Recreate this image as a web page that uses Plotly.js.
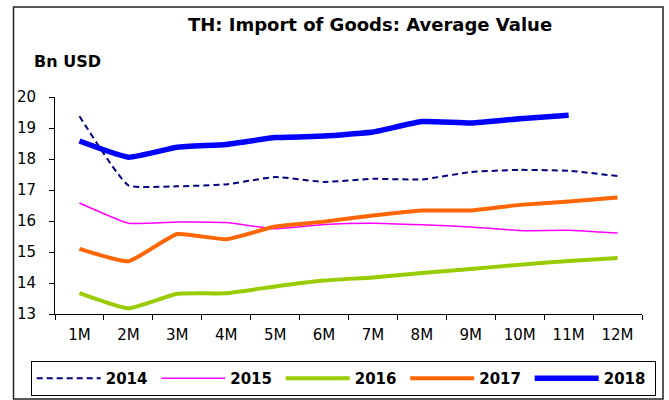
<!DOCTYPE html>
<html>
<head>
<meta charset="utf-8">
<script src="https://cdn.plot.ly/plotly-3.0.1.min.js"></script>
<style>html,body{margin:0;padding:0;background:#fff;}#chart{width:669px;height:400px;}</style>
</head>
<body>
<div id="chart"></div>
<script>
const months = ["1M","2M","3M","4M","5M","6M","7M","8M","9M","10M","11M","12M"];
const years = ["2014","2015","2016","2017","2018"];
const v2014 = [19.38,17.15,17.12,17.18,17.42,17.26,17.36,17.34,17.58,17.65,17.62,17.45];
const v2015 = [16.58,15.93,15.97,15.95,15.75,15.89,15.93,15.88,15.81,15.69,15.70,15.61];
const v2016 = [13.67,13.18,13.65,13.67,13.89,14.08,14.18,14.32,14.45,14.59,14.71,14.81];
const v2017 = [15.10,14.70,15.58,15.41,15.82,15.98,16.18,16.34,16.34,16.52,16.63,16.76];
const v2018 = [18.58,18.06,18.38,18.47,18.69,18.74,18.87,19.21,19.16,19.30,19.41];
const yTicks = [13,14,15,16,17,18,19,20];

const FONT = "DejaVu Sans, Arial, sans-serif";
const styles = [
  {color:"#000080", width:2, dash:"6px,4px"},
  {color:"#FF00FF", width:1.5, dash:"solid"},
  {color:"#99CC00", width:4, dash:"solid"},
  {color:"#FF6600", width:4, dash:"solid"},
  {color:"#0000FF", width:5.5, dash:"solid"}
];
const series = [v2014, v2015, v2016, v2017, v2018];
const traces = series.map((vals, i) => ({
  type: "scatter", mode: "lines",
  x: months.slice(0, vals.length), y: vals, name: years[i],
  line: {color: styles[i].color, width: styles[i].width, dash: styles[i].dash, shape: "spline", smoothing: 0.4},
  hoverinfo: "x+y+name"
}));

const L = 55, R = 642, T = 97, B = 314;
const pw = R - L, ph = B - T;
const px = x => (x - L) / pw;
const py = y => (B - y) / ph;

const layout = {
  width: 669, height: 400,
  margin: {l: L, r: 669 - R, t: T, b: 400 - B, pad: 0, autoexpand: false},
  paper_bgcolor: "#ffffff", plot_bgcolor: "#ffffff",
  font: {family: FONT, size: 15, color: "#000"},
  showlegend: true,
  title: {text: "TH: Import of Goods: Average Value", font: {family: FONT, size: 18, weight: "bold", color: "#000"},
          xref: "container", yref: "container", x: 370/669, xanchor: "center", y: 1 - 25/400, yanchor: "middle"},
  xaxis: {type: "category", categoryorder: "array", categoryarray: months, range: [-0.5, 11.5],
          showline: true, linecolor: "#000", linewidth: 1, showgrid: false, zeroline: false,
          ticks: "outside", ticklen: 5, tickcolor: "#000", tickson: "boundaries", ticklabelstandoff: 7,
          tickfont: {family: FONT, size: 15, color: "#000"}, fixedrange: true},
  yaxis: {range: [13, 20], tickvals: yTicks, ticktext: yTicks.map(String),
          showline: true, linecolor: "#000", linewidth: 1, showgrid: false, zeroline: false,
          ticks: "outside", ticklen: 5, tickcolor: "#000", ticklabelstandoff: 10,
          tickfont: {family: FONT, size: 15, color: "#000"}, fixedrange: true},
  legend: {orientation: "h", xref: "paper", yref: "paper", x: px(30.7), xanchor: "left", y: py(361), yanchor: "top",
           bordercolor: "#000", borderwidth: 1, bgcolor: "#fff", itemwidth: 64,
           entrywidth: 45.5, entrywidthmode: "pixels",
           font: {family: FONT, size: 15, weight: "bold", color: "#000"}, traceorder: "normal"},
  annotations: [{text: "<b>Bn USD</b>", xref: "paper", yref: "paper", x: px(32), xanchor: "left", y: py(61), yanchor: "middle",
                 showarrow: false, font: {family: FONT, size: 16, color: "#000"}}],
  shapes: [{type: "rect", xref: "paper", yref: "paper", x0: px(13.5), x1: px(663), y0: py(399), y1: py(7),
            line: {color: "#222", width: 1.5}, fillcolor: "rgba(0,0,0,0)", layer: "below"}]
};
Plotly.newPlot("chart", traces, layout, {displayModeBar: false, staticPlot: true});
</script>
</body>
</html>
